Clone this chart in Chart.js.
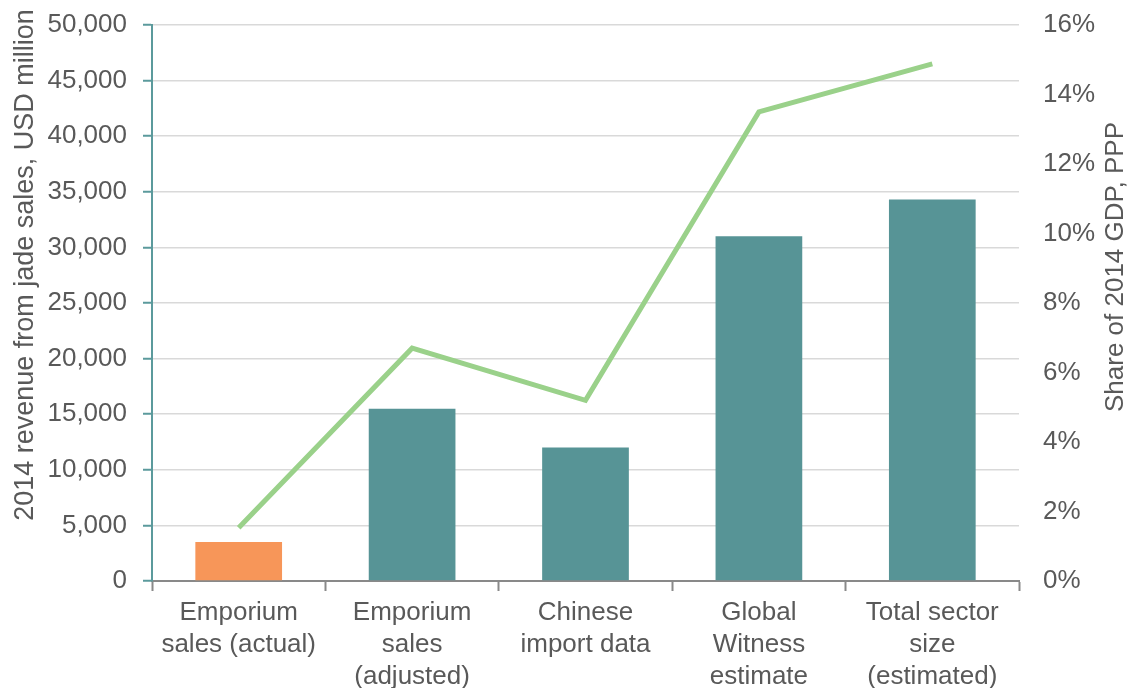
<!DOCTYPE html>
<html>
<head>
<meta charset="utf-8">
<script src="https://cdn.jsdelivr.net/npm/chart.js@4"></script>
<style>
  html, body { margin: 0; padding: 0; background: #fff; }
  #wrap { width: 1128px; height: 688px; position: relative; }
</style>
</head>
<body>
<div id="wrap"><canvas id="chart"></canvas></div>
<script>
// categories and values
const categories = [
  ['Emporium', 'sales (actual)'],
  ['Emporium', 'sales', '(adjusted)'],
  ['Chinese', 'import data'],
  ['Global', 'Witness', 'estimate'],
  ['Total sector', 'size', '(estimated)']
];
const revenue = [3500, 15500, 12000, 31000, 34300];      // USD million
const gdpShare = [1.53, 6.7, 5.2, 13.5, 14.88];          // % of 2014 GDP, PPP
const barColors = ['#F79659', '#579496', '#579496', '#579496', '#579496'];

const leftTitle = '2014 revenue from jade sales, USD million';
const rightTitle = 'Share of 2014 GDP, PPP';

const textColor = '#595959';
const fontFamily = '"Liberation Sans", Arial, sans-serif';

// draw axis titles (both read bottom-to-top like the original)
const axisTitles = {
  id: 'axisTitles',
  afterDraw(chart) {
    const ctx = chart.ctx;
    ctx.save();
    ctx.fillStyle = textColor;
    ctx.font = '27px ' + fontFamily;
    ctx.textAlign = 'center';
    ctx.textBaseline = 'alphabetic';
    ctx.translate(33, 265);
    ctx.rotate(-Math.PI / 2);
    ctx.fillText(leftTitle, 0, 0);
    ctx.restore();

    ctx.save();
    ctx.fillStyle = textColor;
    ctx.font = '26px ' + fontFamily;
    ctx.textAlign = 'center';
    ctx.textBaseline = 'alphabetic';
    ctx.translate(1123, 267);
    ctx.rotate(-Math.PI / 2);
    ctx.fillText(rightTitle, 0, 0);
    ctx.restore();
  }
};

// fixed axis sizes so the plot area sits where it does in the original
function fitVertical(width) {
  return scale => {
    scale.width = width;
    scale.paddingTop = 0;
    scale.paddingBottom = 0;
  };
}

const ctx = document.getElementById('chart').getContext('2d');
new Chart(ctx, {
  data: {
    labels: categories,
    datasets: [
      {
        type: 'line',
        data: gdpShare,
        yAxisID: 'y1',
        borderColor: '#9AD18A',
        borderWidth: 5,
        pointRadius: 0,
        tension: 0,
        order: 0
      },
      {
        type: 'bar',
        data: revenue,
        yAxisID: 'y',
        backgroundColor: barColors,
        categoryPercentage: 0.5,
        barPercentage: 1,
        order: 1
      }
    ]
  },
  options: {
    responsive: true,
    maintainAspectRatio: false,
    animation: false,
    layout: { padding: { top: 25, left: 0, right: 0, bottom: 0 } },
    plugins: {
      legend: { display: false },
      tooltip: { enabled: false }
    },
    scales: {
      x: {
        offset: true,
        grid: {
          offset: true,
          drawOnChartArea: false,
          drawTicks: true,
          tickLength: 10,
          tickColor: '#898989',
          tickWidth: 2
        },
        border: { color: '#898989', width: 2 },
        ticks: {
          color: textColor,
          font: { family: fontFamily, size: 26, lineHeight: 1.23 },
          padding: 6,
          maxRotation: 0,
          autoSkip: false
        },
        afterFit(scale) {
          scale.height = 107;
          scale.paddingLeft = 0;
          scale.paddingRight = 0;
        }
      },
      y: {
        position: 'left',
        min: 0,
        max: 50000,
        ticks: {
          stepSize: 5000,
          color: textColor,
          font: { family: fontFamily, size: 26 },
          padding: 16,
          callback: v => v.toLocaleString('en-US')
        },
        grid: {
          color: '#D9D9D9',
          lineWidth: 1.5,
          tickLength: 9,
          tickColor: '#5B9A9C',
          tickWidth: 2
        },
        border: { color: '#5B9A9C', width: 2 },
        afterFit: fitVertical(152)
      },
      y1: {
        position: 'right',
        min: 0,
        max: 16,
        ticks: {
          stepSize: 2,
          color: textColor,
          font: { family: fontFamily, size: 26 },
          padding: 24,
          callback: v => v + '%'
        },
        grid: { drawOnChartArea: false, drawTicks: false },
        border: { display: false },
        afterFit: fitVertical(109)
      }
    }
  },
  plugins: [axisTitles]
});
</script>
</body>
</html>
